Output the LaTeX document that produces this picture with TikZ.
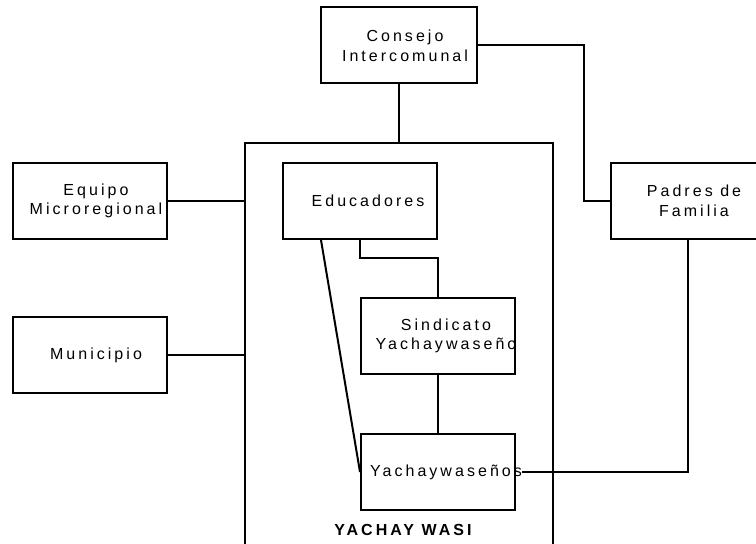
\documentclass[tikz,border=0pt]{standalone}
\usepackage{fontspec}
\newfontfamily\lbl{Liberation Sans}[LetterSpace=19]
\usetikzlibrary{calc}
\begin{document}
\begin{tikzpicture}[x=1pt,y=-1pt,
  box/.style={draw, line width=2pt, minimum width=154pt, minimum height=76pt, inner sep=0pt},
  lbltext/.style={inner sep=0pt, align=center, font=\lbl\fontsize{16}{19.5}\selectfont},
  conn/.style={line width=2pt}]
\useasboundingbox (0,0) rectangle (756,544);
% outer frame of Yachay Wasi (open at the bottom of the page)
\node[draw, line width=2pt, minimum width=308pt, minimum height=440pt, inner sep=0pt, anchor=north] (yw) at (399,142) {};
% boxes
\node[box, minimum width=156pt] (consejo) at (399,45) {};
\node[box] (equipo) at (90,201) {};
\node[box] (municipio) at (90,355) {};
\node[box] (educ) at (360,201) {};
\node[box] (sind) at (438,336) {};
\node[box] (yach) at (438,472) {};
\node[box] (padres) at (688,201) {};
% texts
\node[lbltext] (consejot) at ([xshift=6pt,yshift=-1pt]consejo.center) {Consejo\\Intercomunal};
\node[lbltext] (equipot) at ([xshift=6pt]equipo.center) {Equipo\\Microregional};
\node[lbltext] (municipiot) at ([xshift=6pt]municipio.center) {Municipio};
\node[lbltext] (educt) at ([xshift=8pt]educ.center) {Educadores};
\node[lbltext] (sindt) at ([xshift=8pt]sind.center) {Sindicato\\Yachaywaseño};
\node[lbltext] (yacht) at ([xshift=8pt]yach.center) {Yachaywaseños};
\node[lbltext] (padrest) at ([xshift=6pt]padres.center) {Padres de\\Familia};
\node[lbltext, font=\lbl\bfseries\fontsize{16}{19.5}\selectfont] (ywt) at (403,529.5) {YACHAY WASI};
% connectors
\draw[conn] (consejo.south) -- (yw.north);
\draw[conn] (consejo.east) -- ++(106,0) |- (padres.west);
\draw[conn] (equipo.east) -- (yw.west |- equipo.east);
\draw[conn] (municipio.east) -- (yw.west |- municipio.east);
\draw[conn] (educ.south) -- ++(0,18) -| (sind.north);
\draw[conn] (sind.south) -- (yach.north);
\draw[conn] ($(educ.south west)!0.25!(educ.south east)$) -- (yach.west);
\draw[conn] (yacht.east |- yach.center) -| (padres.south);
\end{tikzpicture}
\end{document}
